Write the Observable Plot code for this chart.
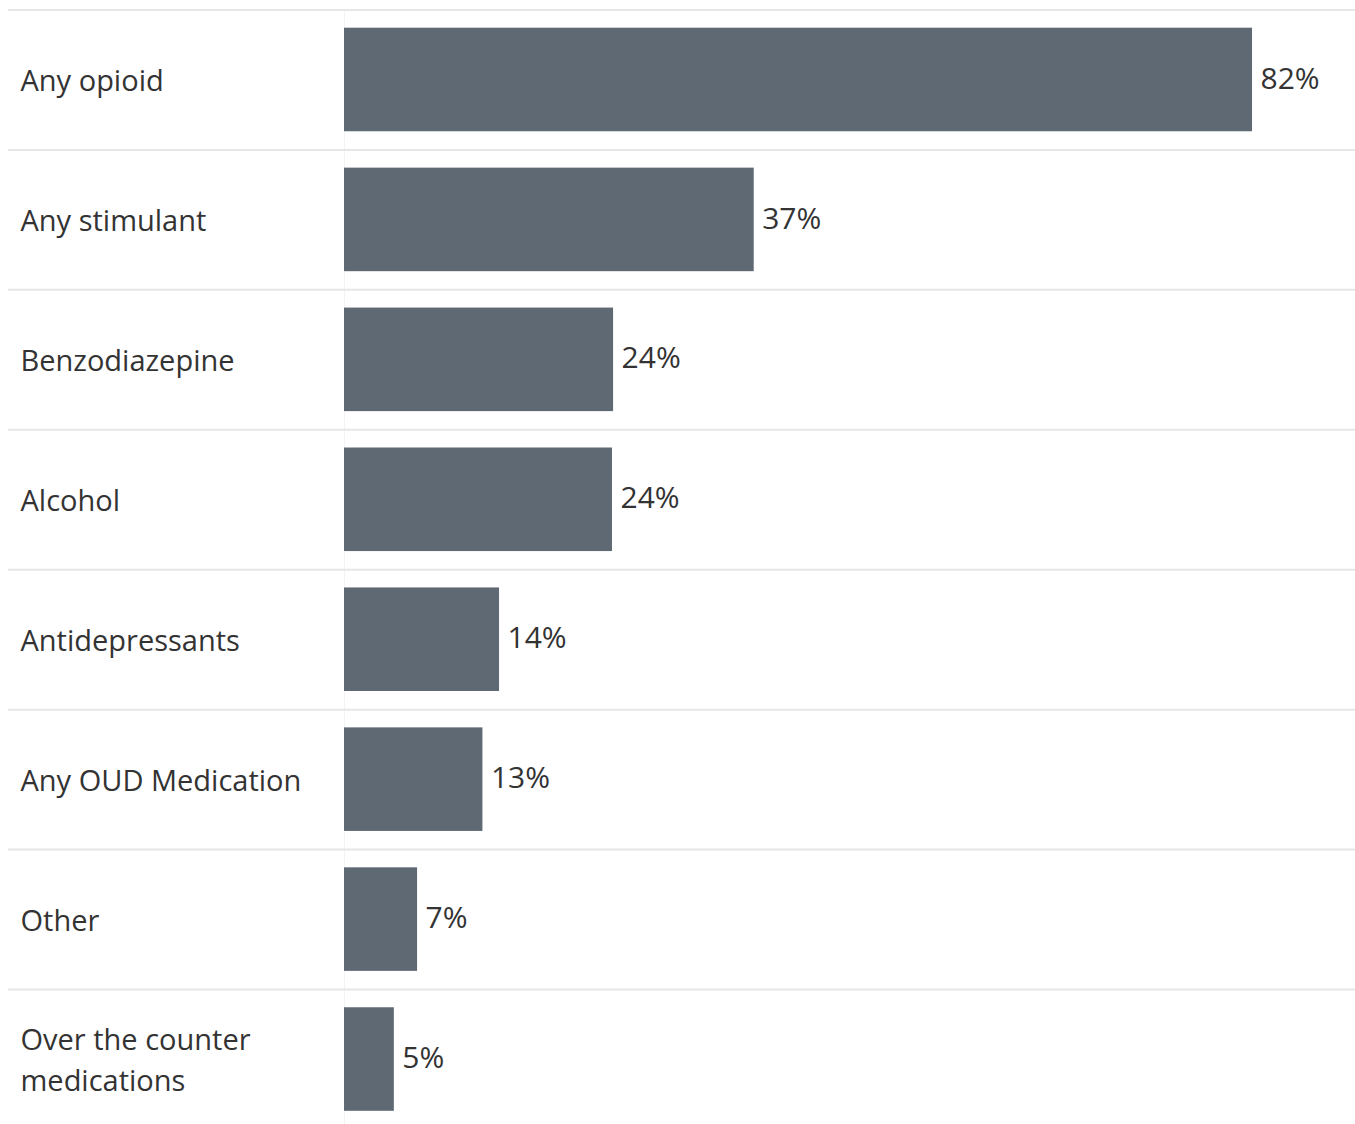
<!DOCTYPE html>
<html>
<head>
<meta charset="utf-8">
<script src="https://cdn.jsdelivr.net/npm/d3@7"></script>
<script src="https://cdn.jsdelivr.net/npm/@observablehq/plot@0.6"></script>
<style>
  html, body { margin: 0; padding: 0; background: #fff; }
  #chart svg { display: block; }
</style>
</head>
<body>
<div id="chart"></div>
<script>
const categories = [
  "Any opioid",
  "Any stimulant",
  "Benzodiazepine",
  "Alcohol",
  "Antidepressants",
  "Any OUD Medication",
  "Other",
  "Over the counter medications"
];
const categoryLabels = [
  "Any opioid",
  "Any stimulant",
  "Benzodiazepine",
  "Alcohol",
  "Antidepressants",
  "Any OUD Medication",
  "Other",
  "Over the counter\nmedications"
];
const values = [82, 37, 24.3, 24.2, 14, 12.5, 6.6, 4.5];
const valueLabels = ["82%", "37%", "24%", "24%", "14%", "13%", "7%", "5%"];

const data = categories.map((c, i) => ({
  category: c,
  label: categoryLabels[i],
  value: values[i],
  valueLabel: valueLabels[i]
}));

const font = "'Open Sans', Lato, sans-serif";

const chart = Plot.plot({
  width: 1355,
  height: 1124,
  marginLeft: 8,
  marginRight: 0,
  marginTop: 10,
  marginBottom: 0,
  style: { fontFamily: font, background: "#fff" },
  x: { domain: [0, 91.3], range: [344, 1355], axis: null },
  y: {
    domain: categories,
    range: [9.5, 1129],
    paddingInner: 0.26,
    paddingOuter: 0.13,
    round: false,
    axis: null
  },
  marks: [
    Plot.ruleX([0], { stroke: "#f3f3f3", strokeWidth: 1 }),
    Plot.ruleY(categories, { y: d => d, dy: -70, stroke: "#e6e6e6", strokeWidth: 2 }),
    Plot.ruleY(categories.slice(-1), { y: d => d, dy: 70, stroke: "#e6e6e6", strokeWidth: 2 }),
    Plot.barX(data, { y: "category", x: "value", fill: "#5f6974" }),
    Plot.text(data, {
      y: "category",
      text: "label",
      frameAnchor: "left",
      dx: 12,
      dy: -2,
      textAnchor: "start",
      fontSize: 29,
      lineHeight: 1.42,
      fill: "#333333"
    }),
    Plot.text(data, {
      y: "category",
      x: "value",
      text: "valueLabel",
      dx: 8,
      dy: -1,
      textAnchor: "start",
      fontSize: 30,
      fill: "#333333"
    })
  ]
});

document.getElementById("chart").appendChild(chart);
</script>
</body>
</html>
